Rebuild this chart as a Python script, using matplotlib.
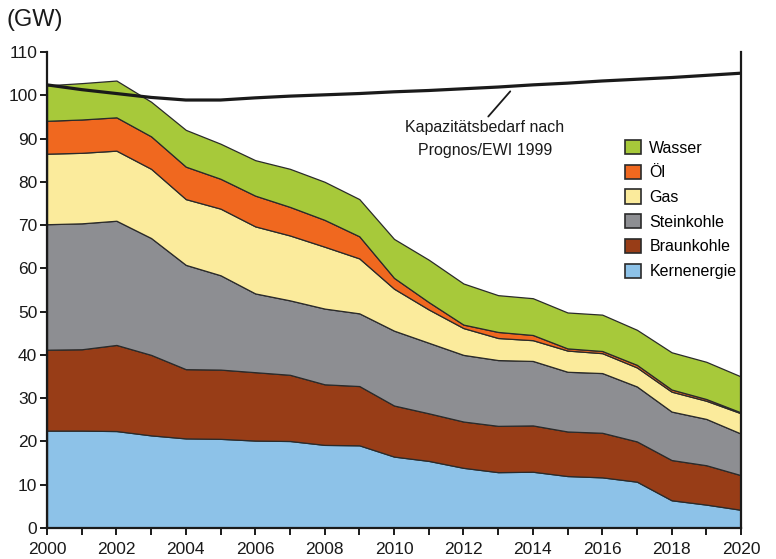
import numpy as np
import matplotlib
matplotlib.use("Agg")
import matplotlib.pyplot as plt
from matplotlib.patches import Patch

plt.rcParams['font.family'] = ['Liberation Sans', 'DejaVu Sans']

years = np.arange(2000, 2021)

# installed capacity per source (GW)
kernenergie = [22.5, 22.5, 22.4, 21.4, 20.7, 20.6, 20.2, 20.1, 19.2, 19.1, 16.5,
               15.5, 13.9, 12.9, 13.0, 12.0, 11.7, 10.7, 6.4, 5.4, 4.2]
braunkohle = [18.7, 18.8, 19.9, 18.6, 16.0, 16.0, 15.8, 15.3, 14.0, 13.7, 11.8,
              11.0, 10.7, 10.7, 10.7, 10.3, 10.3, 9.3, 9.3, 9.1, 8.0]
steinkohle = [29.0, 29.1, 28.7, 27.0, 24.1, 21.8, 18.2, 17.2, 17.5, 16.8, 17.3,
              16.3, 15.4, 15.2, 14.9, 13.8, 13.8, 12.7, 11.2, 10.7, 9.6]
gas = [16.3, 16.3, 16.2, 16.0, 15.2, 15.4, 15.5, 15.0, 14.3, 12.7, 9.7,
       7.7, 6.2, 5.1, 4.8, 4.9, 4.6, 4.4, 4.6, 4.2, 4.7]
oel = [7.6, 7.7, 7.7, 7.5, 7.5, 6.9, 7.1, 6.6, 6.2, 5.1, 2.5,
       1.7, 0.8, 1.4, 1.2, 0.5, 0.5, 0.6, 0.5, 0.4, 0.2]
wasser = [8.2, 8.4, 8.5, 8.0, 8.5, 8.1, 8.2, 8.8, 8.8, 8.6, 9.0,
          9.8, 9.5, 8.5, 8.5, 8.3, 8.4, 8.1, 8.6, 8.6, 8.3]

# Kapazitaetsbedarf nach Prognos/EWI 1999
bedarf = [102.4, 101.3, 100.4, 99.5, 98.9, 98.9, 99.4, 99.8, 100.1, 100.4, 100.8,
          101.1, 101.5, 101.9, 102.4, 102.8, 103.3, 103.7, 104.1, 104.6, 105.1]

labels = ['Kernenergie', 'Braunkohle', 'Steinkohle', 'Gas', 'Öl', 'Wasser']
colors = ['#8dc2e8', '#983d17', '#8d8e92', '#fbeb9c', '#f0681f', '#a7c93a']
edge = '#2a2a2a'

fig = plt.figure(figsize=(7.76, 5.59), dpi=100)
ax = fig.add_axes([0.0606, 0.0555, 0.8943, 0.8515])

ax.stackplot(years, kernenergie, braunkohle, steinkohle, gas, oel, wasser,
             colors=colors, edgecolor=edge, linewidth=0.9)
ax.plot(years, bedarf, color='#1a1a1a', lw=2.3, solid_joinstyle='miter')

ax.set_xlim(2000, 2020)
ax.set_ylim(0, 110)
ax.set_yticks(range(0, 111, 10))
ax.set_xticks(range(2000, 2021, 2))
ax.set_xticks(range(2001, 2020, 2), minor=True)

for s in ['left', 'right', 'bottom']:
    ax.spines[s].set_linewidth(1.6)
    ax.spines[s].set_color('#1a1a1a')
ax.spines['top'].set_visible(False)

ax.tick_params(axis='both', which='both', direction='out', length=5,
               width=1.4, color='#1a1a1a', labelsize=12.5, labelcolor='#1a1a1a')
ax.tick_params(axis='y', pad=2)
ax.tick_params(axis='x', pad=5)

fig.text(0.008, 0.964, '(GW)', fontsize=17, va='center', ha='left', color='#1a1a1a')

ax.annotate('Kapazitätsbedarf nach\nPrognos/EWI 1999', xy=(2013.35, 100.9),
            xytext=(2012.62, 89.9), ha='center', va='center', fontsize=11.5,
            color='#1a1a1a', linespacing=1.6,
            arrowprops=dict(arrowstyle='-', color='#1a1a1a', lw=1.3,
                            relpos=(0.5, 1.0), shrinkA=1, shrinkB=0))

handles = [Patch(facecolor=c, edgecolor=edge, linewidth=1.2) for c in colors]
ax.legend(handles[::-1], labels[::-1], loc='upper left',
          bbox_to_anchor=(0.822, 0.832), frameon=False, fontsize=11.5,
          handlelength=0.95, handleheight=1.0, handletextpad=0.55,
          labelspacing=0.57, borderpad=0)

fig.savefig('out.png', dpi=100)
